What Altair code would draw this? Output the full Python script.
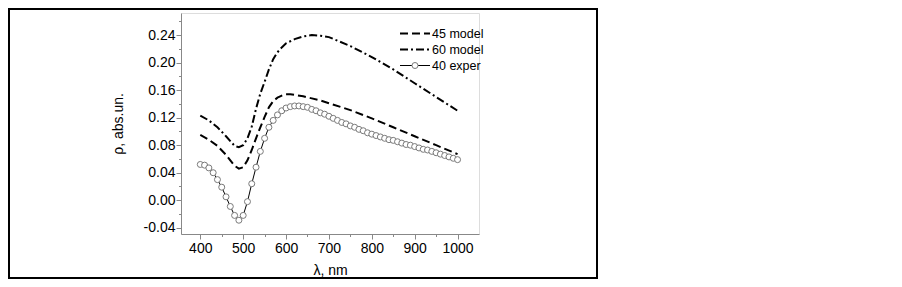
import altair as alt
import pandas as pd

# ---- data ----
exper_lambda = list(range(400, 1001, 10))
exper_rho = [0.052, 0.051, 0.047, 0.040, 0.030, 0.019, 0.005, -0.009, -0.022, -0.029,
             -0.022, -0.002, 0.024, 0.048, 0.071, 0.090, 0.106, 0.116, 0.124, 0.130,
             0.134, 0.136, 0.137, 0.137, 0.136, 0.135, 0.132, 0.130, 0.127, 0.125,
             0.122, 0.119, 0.116, 0.113, 0.111, 0.108, 0.106, 0.103, 0.101, 0.098,
             0.096, 0.094, 0.092, 0.090, 0.088, 0.087, 0.085, 0.083, 0.081, 0.080,
             0.078, 0.076, 0.074, 0.073, 0.071, 0.069, 0.067, 0.065, 0.063, 0.061,
             0.059]

m45_lambda = [400, 420, 440, 460, 470, 480, 490, 500, 510, 520, 530, 540, 550, 560, 570,
              580, 590, 600, 610, 620, 640, 660, 680, 700, 750, 800, 850, 900, 950, 1000]
m45_rho = [0.095, 0.088, 0.079, 0.066, 0.058, 0.050, 0.046, 0.048, 0.058, 0.073, 0.090,
           0.106, 0.121, 0.135, 0.144, 0.149, 0.152, 0.154, 0.154, 0.153, 0.151, 0.148,
           0.145, 0.141, 0.131, 0.119, 0.106, 0.093, 0.080, 0.067]

m60_lambda = [400, 420, 440, 460, 470, 480, 490, 500, 510, 520, 530, 540, 550, 560, 570,
              580, 590, 600, 620, 640, 660, 680, 700, 750, 800, 850, 900, 950, 1000]
m60_rho = [0.123, 0.116, 0.106, 0.093, 0.086, 0.079, 0.077, 0.080, 0.090, 0.107, 0.133,
           0.155, 0.172, 0.190, 0.205, 0.215, 0.222, 0.228, 0.234, 0.238, 0.240, 0.239,
           0.237, 0.224, 0.208, 0.190, 0.170, 0.150, 0.130]

series_labels = ["45 model", "60 model", "40 exper"]
x_ticks = list(range(400, 1001, 50))
y_ticks = [round(-0.04 + 0.02 * k, 2) for k in range(16)]

exper = pd.DataFrame({"lam": exper_lambda, "rho": exper_rho})
m45 = pd.DataFrame({"lam": m45_lambda, "rho": m45_rho})
m60 = pd.DataFrame({"lam": m60_lambda, "rho": m60_rho})
one = pd.DataFrame({"a": [0]})

FONT = "Liberation Sans"

xs = alt.Scale(domain=[355, 1050], nice=False, zero=False)
ys = alt.Scale(domain=[-0.049, 0.272], nice=False, zero=False)

x_axis = alt.Axis(
    values=x_ticks, format="d",
    labelExpr="datum.value % 100 === 0 ? datum.label : ''",
    tickSize={"condition": {"test": "datum.value % 100 !== 0", "value": 2.5}, "value": 5},
    title="λ, nm", titleFontSize=14, titleFontWeight="normal", titlePadding=8,
    labelFontSize=14, labelPadding=2, grid=False,
)
y_axis = alt.Axis(
    values=y_ticks, format=".2f",
    labelExpr="abs(round(datum.value*50)) % 2 === 0 ? replace(datum.label, '\u2212', '-') : ''",
    tickSize={"condition": {"test": "abs(round(datum.value*50)) % 2 === 1", "value": 2.5}, "value": 5},
    title="ρ, abs.un.", titleFontSize=14, titleFontWeight="normal", titlePadding=18,
    labelFontSize=14, labelPadding=1, grid=False,
)

X = alt.X("lam:Q", scale=xs, axis=x_axis)
Y = alt.Y("rho:Q", scale=ys, axis=y_axis)

line45 = alt.Chart(m45).mark_line(color="black", strokeWidth=2, strokeDash=[8, 4]).encode(x=X, y=Y)
line60 = alt.Chart(m60).mark_line(color="black", strokeWidth=2, strokeDash=[8, 3, 2, 3]).encode(x=X, y=Y)
linex = alt.Chart(exper).mark_line(color="black", strokeWidth=1).encode(x=X, y=Y)
ptsx = alt.Chart(exper).mark_point(shape="circle", filled=True, fill="white", stroke="#7a7a7a",
                                   strokeWidth=1, size=36, opacity=1).encode(x=X, y=Y)

# legend (drawn by hand)
leg_y = [20.5, 36.5, 52.5]
lx0, lx1, tx = 219, 249, 251
leg = []
leg.append(alt.Chart(one).mark_rule(color="black", strokeWidth=2, strokeDash=[8, 4]).encode(
    x=alt.value(lx0), x2=alt.value(lx1), y=alt.value(leg_y[0])))
leg.append(alt.Chart(one).mark_rule(color="black", strokeWidth=2, strokeDash=[8, 3, 2, 3]).encode(
    x=alt.value(lx0), x2=alt.value(lx1), y=alt.value(leg_y[1])))
leg.append(alt.Chart(one).mark_rule(color="black", strokeWidth=1).encode(
    x=alt.value(lx0), x2=alt.value(lx1), y=alt.value(leg_y[2])))
leg.append(alt.Chart(one).mark_point(shape="circle", filled=True, fill="white", stroke="#7a7a7a",
                                     strokeWidth=1, size=36, opacity=1).encode(
    x=alt.value((lx0 + lx1) / 2), y=alt.value(leg_y[2])))
for i, lab in enumerate(series_labels):
    leg.append(alt.Chart(one).mark_text(text=lab, align="left", baseline="middle", font=FONT,
                                        fontSize=12.5, color="black").encode(
        x=alt.value(tx), y=alt.value(leg_y[i])))

frame = alt.Chart(one).mark_rect(filled=False, stroke="black", strokeWidth=2).encode(
    x=alt.value(-172), x2=alt.value(416), y=alt.value(-4), y2=alt.value(265))

chart = alt.layer(line45, line60, linex, ptsx, *leg, frame).properties(
    width=298, height=221,
    autosize=alt.AutoSizeParams(type="none"),
    padding={"left": 173, "top": 5, "right": 121, "bottom": 45},
).configure_view(stroke=None).configure_axis(
    domainColor="black", tickColor="black", labelColor="black", titleColor="black",
    labelFont=FONT, titleFont=FONT, domainWidth=1, tickWidth=1,
).configure(background="white")

chart.save("out.html", embed_options={"renderer": "svg", "actions": False})
